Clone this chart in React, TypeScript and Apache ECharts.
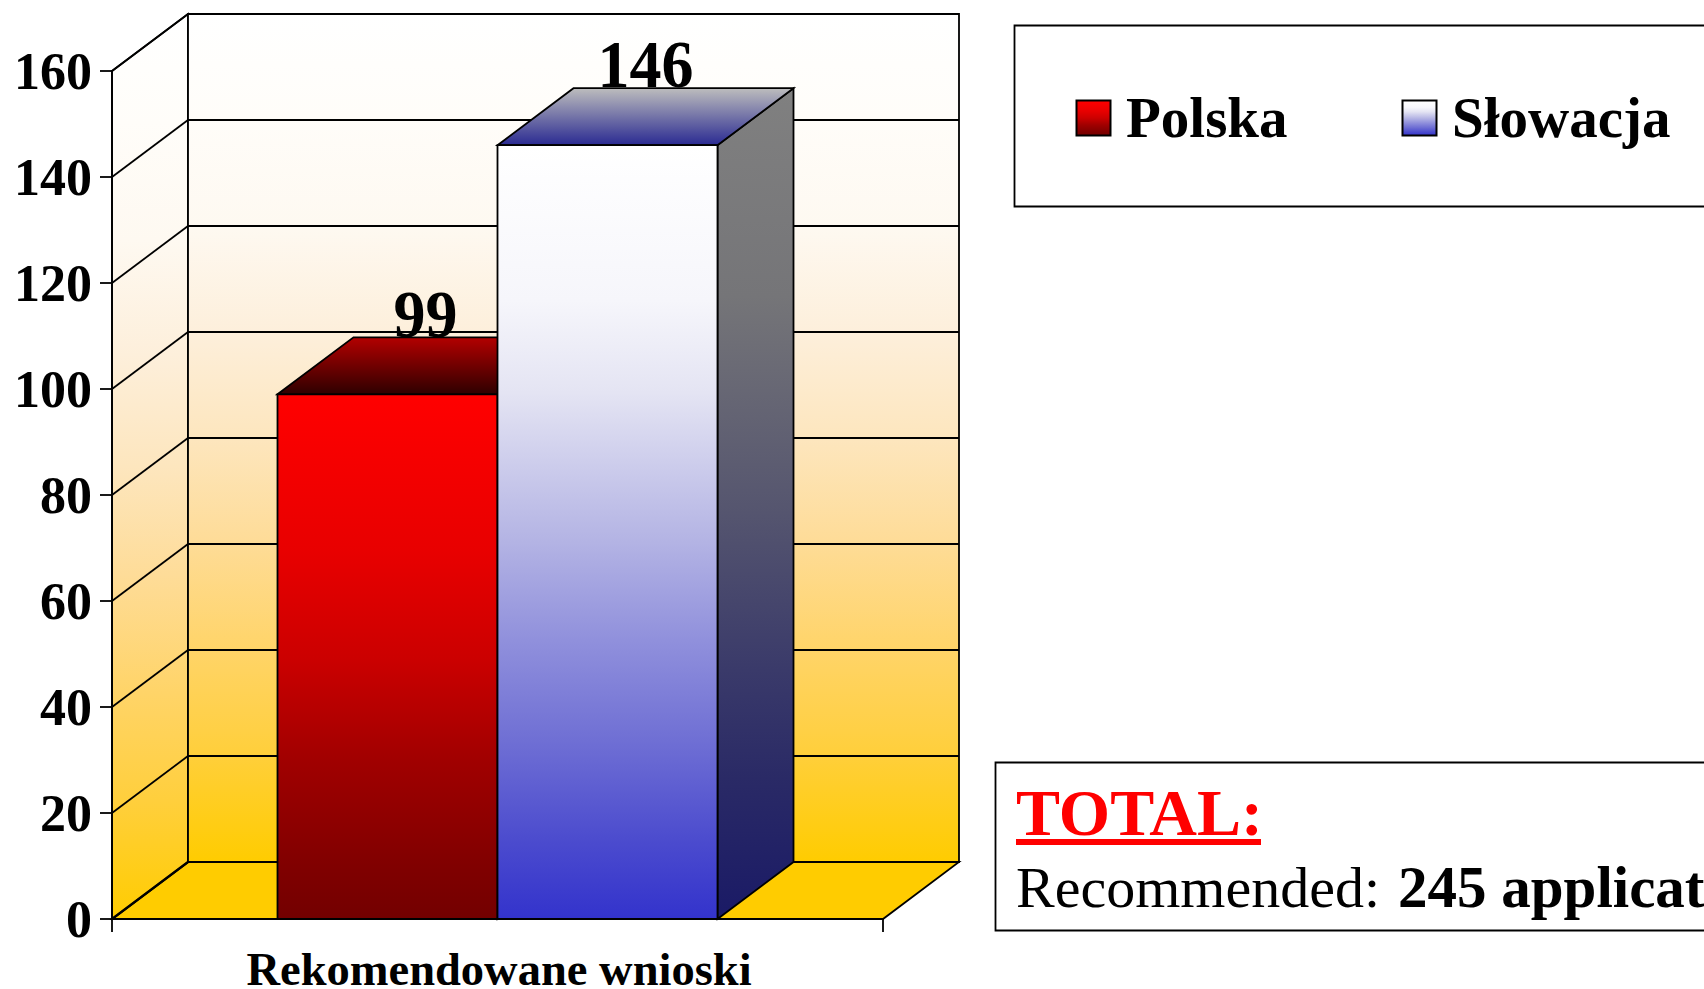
import React, { useEffect, useRef } from "react";
import * as echarts from "echarts";

const categories = ["Rekomendowane wnioski"];
const polska = [99];
const slowacja = [146];
const seriesNames = ["Polska", "Słowacja"];
const yMin = 0;
const yMax = 160;
const yStep = 20;
const yTicks = [0, 20, 40, 60, 80, 100, 120, 140, 160];
const totalTitle = "TOTAL:";
const totalLead = "Recommended: ";
const totalValue = "245 applicat";

const SERIF = '"Liberation Serif", "Times New Roman", serif';
const DX = 76;
const DY = 57;
const BAR_RATIO = 220 / 771;
const STROKE = "#000";
const LINE = 1.8;

const grad = (stops: [number, string][]) =>
  new echarts.graphic.LinearGradient(0, 0, 0, 1, stops.map(([offset, color]) => ({ offset, color })));

const wallGradient = () =>
  grad([
    [0, "#ffffff"],
    [0.12, "#fffdf9"],
    [0.25, "#fef9f1"],
    [0.376, "#fdefdb"],
    [0.5, "#fde6be"],
    [0.62, "#fedc98"],
    [0.75, "#ffd468"],
    [0.87, "#ffcf3c"],
    [1, "#ffcc00"],
  ]);

const barStyles = [
  {
    front: [[0, "#ff0000"], [0.3, "#e80000"], [0.5, "#cc0000"], [0.7, "#a00000"], [0.9, "#800000"], [1, "#730000"]] as [number, string][],
    top: [[0, "#b30000"], [1, "#2e0000"]] as [number, string][],
    side: [[0, "#800000"], [1, "#3a0000"]] as [number, string][],
  },
  {
    front: [[0, "#ffffff"], [0.2, "#f6f6fb"], [0.32, "#e4e4f3"], [0.51, "#b4b4e4"], [0.64, "#9090dc"], [0.77, "#6f6fd4"], [0.9, "#4b4bce"], [1, "#3333cc"]] as [number, string][],
    top: [[0, "#bdbdbd"], [1, "#2a2a92"]] as [number, string][],
    side: [[0, "#808080"], [0.25, "#757578"], [0.51, "#55556f"], [0.7, "#3a3a6a"], [0.83, "#2a2a66"], [1, "#1a1a66"]] as [number, string][],
  },
];

const poly = (points: number[][], fill: any, lineWidth = LINE) => ({
  type: "polygon",
  shape: { points },
  style: { fill, stroke: STROKE, lineWidth, lineJoin: "miter" },
});
const seg = (x1: number, y1: number, x2: number, y2: number, lineWidth = LINE) => ({
  type: "line",
  shape: { x1, y1, x2, y2 },
  style: { stroke: STROKE, lineWidth, fill: "none" },
});

function renderWalls(params: any, api: any) {
  const cs = params.coordSys;
  const left = cs.x;
  const right = cs.x + cs.width;
  const y0 = api.coord([0, yMin])[1];
  const yT = api.coord([0, yMax])[1];
  const children: any[] = [
    poly([[left, y0], [left + DX, y0 - DY], [right + DX, y0 - DY], [right, y0]], "#ffcc00"),
    poly([[left, y0], [left + DX, y0 - DY], [left + DX, yT - DY], [left, yT]], wallGradient()),
    poly([[left + DX, y0 - DY], [right + DX, y0 - DY], [right + DX, yT - DY], [left + DX, yT - DY]], wallGradient()),
  ];
  yTicks.forEach((t) => {
    const y = api.coord([0, t])[1];
    children.push(seg(left, y, left + DX, y - DY, t === 0 ? 2.2 : LINE));
    children.push(seg(left + DX, y - DY, right + DX, y - DY));
  });
  return { type: "group", children };
}

const renderBar = (index: number) => (params: any, api: any) => {
  const value = api.value(1);
  const band = api.size([1, 0])[0];
  const w = band * BAR_RATIO;
  const cx = api.coord([api.value(0), 0])[0];
  const x0 = cx + (index - 1) * w;
  const x1 = x0 + w;
  const yB = api.coord([0, 0])[1];
  const yV = api.coord([0, value])[1];
  const s = barStyles[index];
  return {
    type: "group",
    children: [
      {
        type: "text",
        x: (x0 + x1) / 2 + DX / 2,
        y: yV - DY + 10,
        scaleY: 1.06,
        style: {
          text: String(value),
          font: `bold 64px ${SERIF}`,
          fill: "#000",
          align: "center",
          verticalAlign: "bottom",
        },
      },
      poly([[x1, yB], [x1 + DX, yB - DY], [x1 + DX, yV - DY], [x1, yV]], grad(s.side)),
      poly([[x0, yV], [x0 + DX, yV - DY], [x1 + DX, yV - DY], [x1, yV]], grad(s.top)),
      poly([[x0, yV], [x1, yV], [x1, yB], [x0, yB]], grad(s.front)),
    ],
  };
};

const plainText = (x: number, y: number, text: string, font: string, fill: string) => ({
  type: "text",
  x,
  y,
  z: 5,
  style: { text, font, fill, align: "left", verticalAlign: "bottom" },
});

function buildOption(): any {
  return {
    animation: false,
    backgroundColor: "#fff",
    grid: { left: 112, right: 821, top: 71, bottom: 70, outerBoundsMode: "none" },
    xAxis: {
      type: "category",
      data: categories,
      z: 10,
      axisLine: { show: true, lineStyle: { color: STROKE, width: 2 } },
      axisTick: { show: true, length: 13, lineStyle: { color: STROKE, width: 1.8 } },
      axisLabel: {
        color: "#000",
        fontFamily: SERIF,
        fontWeight: "bold",
        fontSize: 46.5,
        lineHeight: 38,
        margin: 31,
        padding: [0, 0, 0, 3],
      },
    },
    yAxis: {
      type: "value",
      min: yMin,
      max: yMax,
      interval: yStep,
      z: 10,
      splitLine: { show: false },
      axisLine: { show: true, lineStyle: { color: STROKE, width: 1.8 } },
      axisTick: { show: true, length: 12, lineStyle: { color: STROKE, width: 1.8 } },
      axisLabel: {
        color: "#000",
        fontFamily: SERIF,
        fontWeight: "bold",
        fontSize: 52,
        margin: 20,
      },
    },
    series: [
      { type: "custom", name: "walls", clip: false, z: 1, silent: true, data: [[0, yMax]], renderItem: renderWalls, encode: { x: 0, y: 1 } },
      { type: "custom", name: seriesNames[0], clip: false, z: 2, data: polska.map((v, i) => [i, v]), renderItem: renderBar(0), encode: { x: 0, y: 1 } },
      { type: "custom", name: seriesNames[1], clip: false, z: 3, data: slowacja.map((v, i) => [i, v]), renderItem: renderBar(1), encode: { x: 0, y: 1 } },
    ],
    graphic: [
      { type: "rect", shape: { x: 1014.5, y: 25.5, width: 800, height: 181 }, style: { fill: "#fff", stroke: STROKE, lineWidth: LINE } },
      { type: "rect", shape: { x: 1076.5, y: 100.5, width: 34, height: 35 }, z: 5, style: { fill: grad(barStyles[0].front), stroke: STROKE, lineWidth: 2 } },
      plainText(1126, 146, seriesNames[0], `bold 57px ${SERIF}`, "#000"),
      { type: "rect", shape: { x: 1402.5, y: 100.5, width: 34, height: 35 }, z: 5, style: { fill: grad(barStyles[1].front), stroke: STROKE, lineWidth: 2 } },
      plainText(1452, 146, seriesNames[1], `bold 57px ${SERIF}`, "#000"),
      { type: "rect", shape: { x: 995.5, y: 762.5, width: 800, height: 168 }, style: { fill: "#fff", stroke: STROKE, lineWidth: LINE } },
      plainText(1016, 845, totalTitle, `bold 66px ${SERIF}`, "#ff0000"),
      { type: "rect", shape: { x: 1016, y: 839, width: 245, height: 6 }, z: 5, style: { fill: "#ff0000" } },
      plainText(1016, 916, totalLead, `58px ${SERIF}`, "#000"),
      plainText(1398, 916, totalValue, `bold 59px ${SERIF}`, "#000"),
    ],
  };
}

export default function App() {
  const ref = useRef<HTMLDivElement>(null);
  useEffect(() => {
    document.body.style.margin = "0";
    document.body.style.overflow = "hidden";
    const chart = echarts.init(ref.current!, undefined, { renderer: "svg" });
    chart.setOption(buildOption());
    return () => chart.dispose();
  }, []);
  return <div ref={ref} style={{ position: "absolute", left: 0, top: 0, width: 1704, height: 989 }} />;
}
